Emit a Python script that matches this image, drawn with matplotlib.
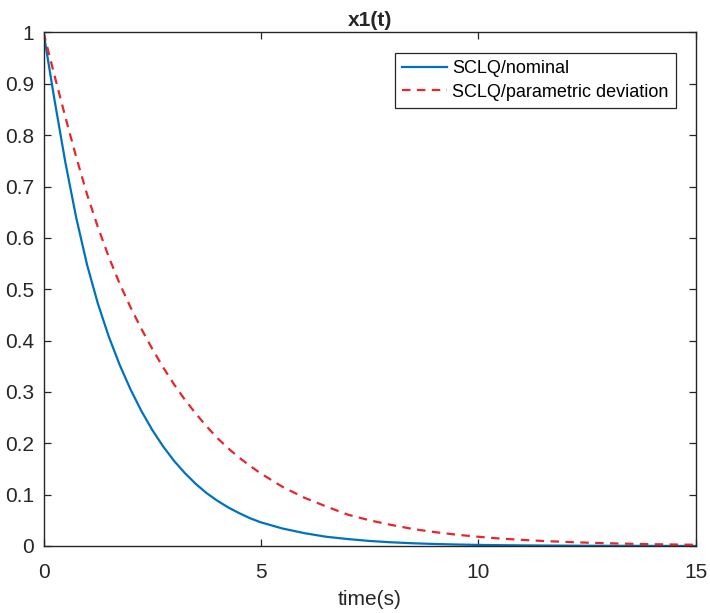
import numpy as np
import matplotlib.pyplot as plt

# values
t = [0, 0.25, 0.5, 0.75, 1.0, 1.25, 1.5, 1.75, 2.0, 2.25, 2.5, 2.75, 3.0,
     3.25, 3.5, 3.75, 4.0, 4.25, 4.5, 4.75, 5.0,
     5.5, 6.0, 6.5, 7.0, 7.5, 8.0, 8.5, 9.0, 9.5, 10.0,
     10.5, 11.0, 11.5, 12.0, 12.5, 13.0, 13.5, 14.0, 14.5, 15.0]
x1_nominal = [1.0, 0.87, 0.748, 0.64, 0.548, 0.472, 0.408, 0.353, 0.305,
              0.263, 0.226, 0.194, 0.166, 0.142, 0.121, 0.103, 0.088, 0.075,
              0.064, 0.054, 0.046,
              0.034, 0.025, 0.018, 0.0135, 0.0098, 0.0072, 0.0053, 0.0039,
              0.0029, 0.0021,
              0.0016, 0.0012, 0.0009, 0.0007, 0.0005, 0.0004, 0.0003, 0.0002,
              0.00015, 0.0001]
x1_deviation = [1.0, 0.917, 0.836, 0.758, 0.685, 0.621, 0.563, 0.511, 0.465,
                0.423, 0.384, 0.348, 0.315, 0.285, 0.258, 0.233, 0.210, 0.190,
                0.172, 0.156, 0.141,
                0.115, 0.094, 0.077, 0.061, 0.050, 0.041, 0.033, 0.027, 0.022,
                0.018,
                0.0145, 0.012, 0.0097, 0.008, 0.0065, 0.0053, 0.0043, 0.0035,
                0.0029, 0.0024]

plt.rcParams['font.family'] = ['Liberation Sans', 'DejaVu Sans']
axcol = '#262626'

fig = plt.figure(figsize=(7.1, 6.13), dpi=100)
ax = fig.add_axes([0.0613, 0.1093, 0.9187, 0.8377])

ax.plot(t, x1_nominal, color='#0072BD', linewidth=1.6, label='SCLQ/nominal')
ax.plot(t, x1_deviation, color='#E5262A', linewidth=1.6, linestyle=(0, (3.8, 2.9)),
        label='SCLQ/parametric deviation')

ax.set_xlim(0, 15)
ax.set_ylim(0, 1)
ax.set_xticks([0, 5, 10, 15])
ax.set_yticks(np.arange(0, 1.01, 0.1))
ax.set_yticklabels(['0', '0.1', '0.2', '0.3', '0.4', '0.5', '0.6', '0.7', '0.8', '0.9', '1'])
ax.tick_params(direction='in', length=5, width=0.9, colors=axcol, labelsize=15,
               top=True, right=True, pad=7)
ax.tick_params(axis='x', pad=12)
for s in ax.spines.values():
    s.set_color(axcol)
    s.set_linewidth(1.0)

ax.set_title('x1(t)', fontsize=15, fontweight='bold', color=axcol, pad=5)
ax.set_xlabel('time(s)', fontsize=15, color=axcol, labelpad=6)

leg = ax.legend(loc='upper right', bbox_to_anchor=(0.969, 0.96), fontsize=13,
                frameon=True, fancybox=False, edgecolor=axcol, framealpha=1,
                borderpad=0.4, labelspacing=0.35, handlelength=2.45,
                handletextpad=0.3, borderaxespad=0)
leg.get_frame().set_linewidth(0.9)

fig.savefig('out.png', dpi=100)
